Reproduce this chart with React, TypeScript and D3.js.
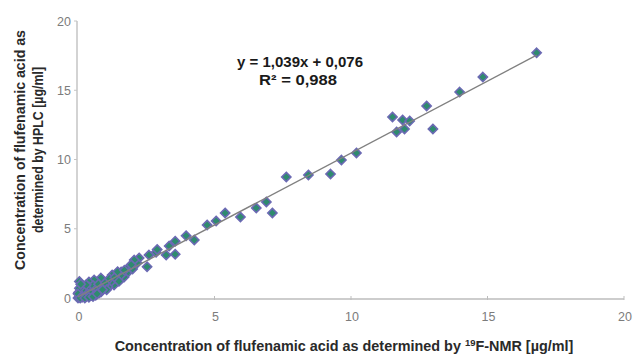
import React from 'react';
import * as d3 from 'd3';

// values (x = 19F-NMR, y = HPLC), µg/ml
const nmrValues = [
  16.8, 14.83, 13.98, 12.77, 13.0, 11.52, 11.89, 12.15, 11.67, 11.96,
  10.2, 9.65, 9.25, 8.44, 7.63, 7.12, 6.9, 6.53, 5.95, 5.39,
  5.06, 4.73, 4.26, 3.96, 3.56, 3.34, 3.56, 3.23, 2.86, 2.9,
  2.6, 2.53, 2.24, 2.17, 2.06, 1.87, 1.8, 1.69, 1.58, 1.58,
  1.4, 1.32, 1.25, 1.2, 1.1, 0.88, 0.84, 0.84, 0.77, 0.66,
  0.59, 0.48, 0.4, 0.4, 0.18, 0.15, 0.11,
  0.05, 0.1, 0.2, 0.3, 0.25, 0.35, 0.5, 0.6, 0.55, 0.7,
  0.75, 0.95, 1.0, 1.05, 0.9, 1.15, 1.35, 1.5, 0.02, 0.05,
  0.3, 0.15, 0.45, 0.65, 1.45, 1.7, 2.0, 1.95, 0.05, 0.1,
  0.0, 0.0, 0.08, 0.25, 0.4, 0.55, 0.7,
];
const hplcValues = [
  17.7, 15.95, 14.87, 13.86, 12.2, 13.07, 12.85, 12.78, 11.99, 12.2,
  10.47, 9.96, 8.95, 8.88, 8.74, 6.14, 6.93, 6.5, 5.85, 6.14,
  5.56, 5.27, 4.19, 4.5, 4.1, 3.75, 3.16, 3.1, 3.3, 3.5,
  3.1, 2.26, 2.89, 2.52, 2.74, 2.24, 1.8, 1.52, 1.88, 1.66,
  1.3, 0.94, 1.66, 1.16, 0.8, 1.3, 1.44, 0.43, 0.36, 1.16,
  1.3, 0.58, 1.16, 0.8, 0.8, 0.36, 0.36,
  0.1, 0.6, 0.2, 0.1, 0.5, 0.3, 0.2, 0.5, 0.9, 0.7,
  1.0, 0.9, 1.1, 0.6, 0.6, 1.4, 1.5, 1.2, 0.4, 0.7,
  0.95, 0.05, 0.35, 0.2, 1.9, 2.0, 2.1, 2.4, 1.2, 1.0,
  0.0, 0.3, 0.0, 0.0, 0.05, 0.1, 0.3,
];
const xTicks = [0, 5, 10, 15, 20];
const yTicks = [0, 5, 10, 15, 20];
const slope = 1.039;
const intercept = 0.076;
const equationLabel = 'y = 1,039x + 0,076';
const r2Label = 'R² = 0,988';

const W = 633;
const H = 356;
const font = '"Liberation Sans", Arial, sans-serif';

export default function App() {
  const x = d3.scaleLinear().domain([0, 20]).range([78, 624]);
  const y = d3.scaleLinear().domain([0, 20]).range([298, 21]);

  const points = nmrValues.map((v, i) => [v, hplcValues[i]] as [number, number]);
  const xMax = d3.max(nmrValues) ?? 0;
  const trend = d3.line<number>()
    .x(d => x(d))
    .y(d => y(slope * d + intercept))([0, xMax]);

  const r = 4.6;
  const diamond = `M0,${-r}L${r},0L0,${r}L${-r},0Z`;

  return (
    <svg width={W} height={H} style={{ position: 'fixed', left: 0, top: 0, background: '#fff' }}>
      {/* axes */}
      <line x1={x(0) - 1} x2={x(0) - 1} y1={y(20)} y2={y(0) + 1} stroke="#c4c4c4" strokeWidth={1.5} />
      <line x1={x(0) - 1} x2={x(20)} y1={y(0) + 1} y2={y(0) + 1} stroke="#cdcdcd" strokeWidth={2} />
      {yTicks.map(t => (
        <g key={'y' + t}>
          <line x1={x(0) - 4} x2={x(0) - 1} y1={y(t)} y2={y(t)} stroke="#c4c4c4" />
          <text x={71} y={y(t) + 4.5} textAnchor="end" fontFamily={font} fontSize={12.5} fill="#7c7c7c">{t}</text>
        </g>
      ))}
      {xTicks.map(t => (
        <g key={'x' + t}>
          <line x1={x(t)} x2={x(t)} y1={y(0) - 2} y2={y(0) + 2} stroke="#bdbdbd" />
          <text x={x(t) + 1} y={321} textAnchor="middle" fontFamily={font} fontSize={12.5} fill="#7c7c7c">{t}</text>
        </g>
      ))}

      {/* markers */}
      {points.map(([a, b], i) => (
        <path key={i} d={diamond} transform={`translate(${x(a)},${y(b)})`}
          fill="#2e8b6e" stroke="#6b69b3" strokeWidth={1.6} />
      ))}

      {/* linear trendline */}
      <path d={trend ?? ''} fill="none" stroke="#808080" strokeWidth={1.4} />

      <text x={300} y={67} textAnchor="middle" fontFamily={font} fontSize={14} fontWeight="bold"
        fill="#1a1a1a" textLength={126} lengthAdjust="spacingAndGlyphs">{equationLabel}</text>
      <text x={298} y={85} textAnchor="middle" fontFamily={font} fontSize={14} fontWeight="bold"
        fill="#1a1a1a" textLength={78} lengthAdjust="spacingAndGlyphs">{r2Label}</text>

      {/* axis titles */}
      <g transform="translate(25,150) rotate(-90)">
        <text x={0} y={0} textAnchor="middle" fontFamily={font} fontSize={14} fontWeight="bold" fill="#2a2a2a"
          textLength={240} lengthAdjust="spacingAndGlyphs">
          Concentration of flufenamic acid as
        </text>
        <text x={0} y={18} textAnchor="middle" fontFamily={font} fontSize={14} fontWeight="bold" fill="#2a2a2a"
          textLength={166} lengthAdjust="spacingAndGlyphs">
          determined by HPLC [µg/ml]
        </text>
      </g>
      <text x={344} y={351} textAnchor="middle" fontFamily={font} fontSize={14.4} fontWeight="bold" fill="#2a2a2a">
        Concentration of flufenamic acid as determined by <tspan fontSize={9.5} dy={-5}>19</tspan><tspan dy={5}>F-NMR [µg/ml]</tspan>
      </text>
    </svg>
  );
}
